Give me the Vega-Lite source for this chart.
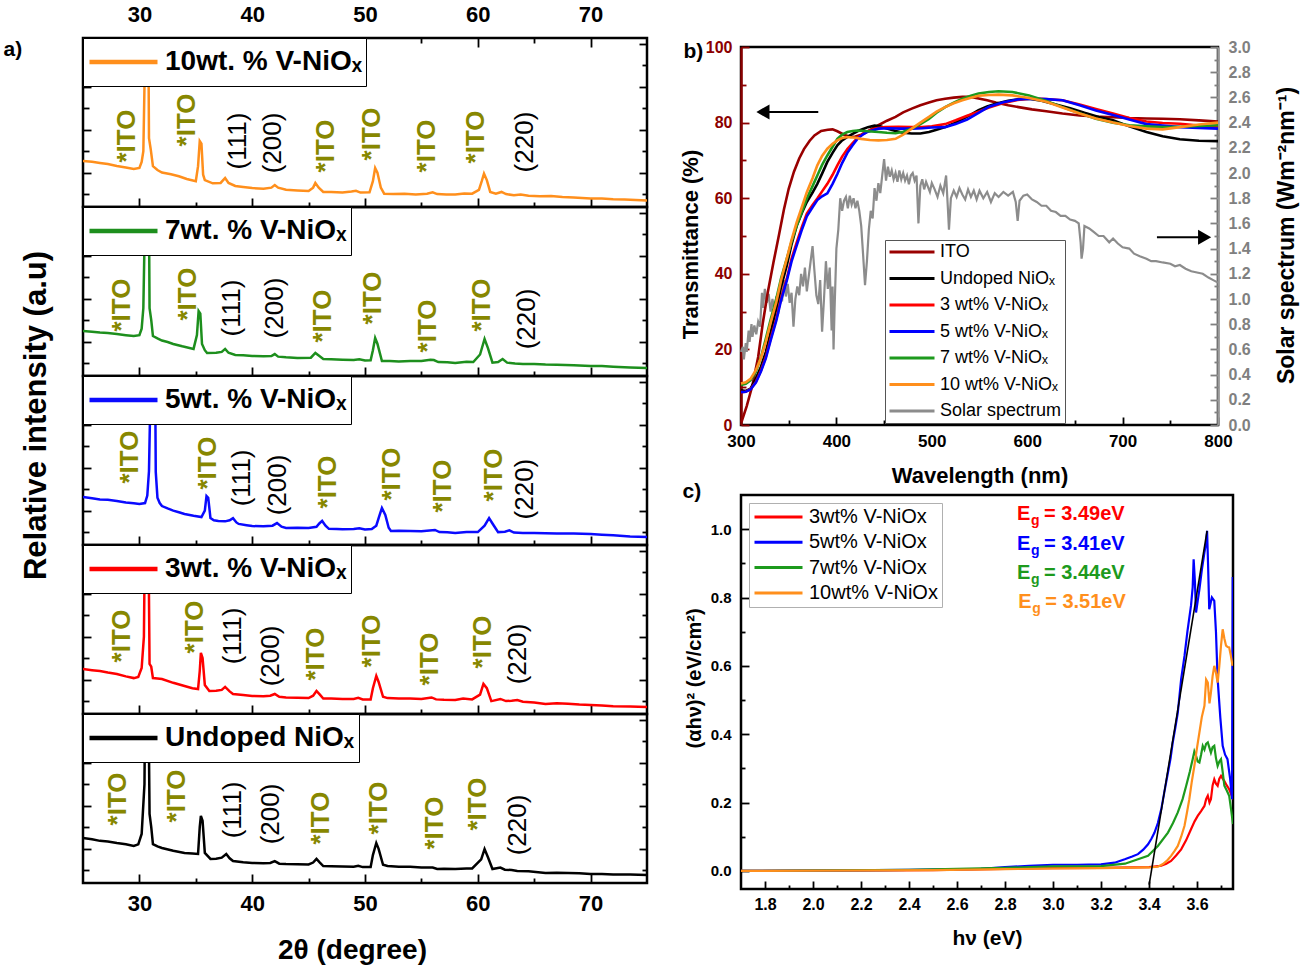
{
"$schema":"https://vega.github.io/schema/vega-lite/v6.json",
"background":"white",
"padding":{"left":1,"top":1,"right":2,"bottom":2},
"config":{
 "font":"Liberation Sans",
 "view":{"stroke":"black","strokeWidth":2.5},
 "axis":{"grid":false,"domain":false,"labelFont":"Liberation Sans","titleFont":"Liberation Sans","labelFontWeight":"bold","titleFontWeight":"bold","labelColor":"black","titleColor":"black","tickColor":"black","tickWidth":1.8,"labelFlush":false,"labelOverlap":false},
 "legend":{"labelFont":"Liberation Sans","labelColor":"black"},
 "text":{"font":"Liberation Sans"}
},
"datasets":{
"xrd":[
{"s":"10","t":25,"i":2.54},{"s":"10","t":25.8,"i":2.5},{"s":"10","t":26.5,"i":2.45},{"s":"10","t":27.2,"i":2.4},{"s":"10","t":28,"i":2.31},{"s":"10","t":28.8,"i":2.24},{"s":"10","t":29.5,"i":2.17},{"s":"10","t":30.0,"i":2.22},{"s":"10","t":30.2,"i":2.5},{"s":"10","t":30.35,"i":3.0},{"s":"10","t":30.45,"i":6},{"s":"10","t":30.55,"i":12},{"s":"10","t":30.75,"i":12},{"s":"10","t":30.85,"i":3.6},{"s":"10","t":31.0,"i":3.1},{"s":"10","t":31.2,"i":2.3},{"s":"10","t":31.6,"i":2.12},{"s":"10","t":32,"i":2.0},{"s":"10","t":32.8,"i":1.92},{"s":"10","t":33.5,"i":1.83},{"s":"10","t":34.2,"i":1.7},{"s":"10","t":35,"i":1.6},{"s":"10","t":35.2,"i":2.3},{"s":"10","t":35.35,"i":3.47},{"s":"10","t":35.5,"i":3.35},{"s":"10","t":35.65,"i":1.9},{"s":"10","t":35.8,"i":1.65},{"s":"10","t":36.5,"i":1.5},{"s":"10","t":37.2,"i":1.52},{"s":"10","t":37.6,"i":1.75},{"s":"10","t":37.9,"i":1.52},{"s":"10","t":38.5,"i":1.38},{"s":"10","t":39.2,"i":1.33},{"s":"10","t":40,"i":1.28},{"s":"10","t":41,"i":1.25},{"s":"10","t":41.7,"i":1.3},{"s":"10","t":42,"i":1.42},{"s":"10","t":42.3,"i":1.3},{"s":"10","t":43,"i":1.2},{"s":"10","t":44,"i":1.17},{"s":"10","t":45,"i":1.14},{"s":"10","t":45.4,"i":1.3},{"s":"10","t":45.6,"i":1.52},{"s":"10","t":45.9,"i":1.3},{"s":"10","t":46.3,"i":1.1},{"s":"10","t":47,"i":1.1},{"s":"10","t":48,"i":1.08},{"s":"10","t":48.8,"i":1.12},{"s":"10","t":49.2,"i":1.15},{"s":"10","t":49.6,"i":1.07},{"s":"10","t":50.4,"i":1.08},{"s":"10","t":50.7,"i":1.6},{"s":"10","t":50.9,"i":2.21},{"s":"10","t":51.1,"i":2.0},{"s":"10","t":51.4,"i":1.3},{"s":"10","t":51.7,"i":1.02},{"s":"10","t":52.5,"i":1.0},{"s":"10","t":53.5,"i":1.02},{"s":"10","t":54.5,"i":0.98},{"s":"10","t":55.5,"i":1.02},{"s":"10","t":56,"i":1.08},{"s":"10","t":56.4,"i":1.0},{"s":"10","t":57.2,"i":0.98},{"s":"10","t":58,"i":0.98},{"s":"10","t":58.8,"i":1.03},{"s":"10","t":59.5,"i":1.02},{"s":"10","t":60.1,"i":1.2},{"s":"10","t":60.35,"i":1.6},{"s":"10","t":60.55,"i":1.95},{"s":"10","t":60.8,"i":1.65},{"s":"10","t":61.1,"i":1.1},{"s":"10","t":61.6,"i":1.02},{"s":"10","t":62.1,"i":1.1},{"s":"10","t":62.5,"i":1.0},{"s":"10","t":63.2,"i":0.95},{"s":"10","t":63.8,"i":0.98},{"s":"10","t":64.5,"i":0.92},{"s":"10","t":65.5,"i":0.9},{"s":"10","t":66.5,"i":0.91},{"s":"10","t":67.5,"i":0.86},{"s":"10","t":68.5,"i":0.84},{"s":"10","t":70,"i":0.8},{"s":"10","t":71,"i":0.79},{"s":"10","t":72,"i":0.76},{"s":"10","t":73,"i":0.75},{"s":"10","t":74,"i":0.73},{"s":"10","t":75,"i":0.7},
{"s":"7","t":25,"i":2.49},{"s":"7","t":25.8,"i":2.46},{"s":"7","t":26.5,"i":2.42},{"s":"7","t":27.2,"i":2.4},{"s":"7","t":28,"i":2.35},{"s":"7","t":28.8,"i":2.3},{"s":"7","t":29.5,"i":2.26},{"s":"7","t":30.0,"i":2.3},{"s":"7","t":30.2,"i":2.6},{"s":"7","t":30.35,"i":3.56},{"s":"7","t":30.5,"i":8},{"s":"7","t":30.6,"i":12},{"s":"7","t":30.8,"i":12},{"s":"7","t":30.9,"i":3.56},{"s":"7","t":31.05,"i":3.0},{"s":"7","t":31.2,"i":2.26},{"s":"7","t":31.6,"i":2.15},{"s":"7","t":32,"i":2.05},{"s":"7","t":32.5,"i":1.98},{"s":"7","t":33,"i":1.89},{"s":"7","t":33.8,"i":1.78},{"s":"7","t":34.8,"i":1.66},{"s":"7","t":35.1,"i":2.3},{"s":"7","t":35.25,"i":3.42},{"s":"7","t":35.4,"i":3.3},{"s":"7","t":35.55,"i":1.89},{"s":"7","t":35.8,"i":1.6},{"s":"7","t":36,"i":1.47},{"s":"7","t":36.8,"i":1.48},{"s":"7","t":37.3,"i":1.52},{"s":"7","t":37.6,"i":1.66},{"s":"7","t":37.9,"i":1.48},{"s":"7","t":38.5,"i":1.38},{"s":"7","t":39.2,"i":1.36},{"s":"7","t":40,"i":1.33},{"s":"7","t":41,"i":1.32},{"s":"7","t":41.7,"i":1.33},{"s":"7","t":42,"i":1.42},{"s":"7","t":42.3,"i":1.3},{"s":"7","t":43,"i":1.27},{"s":"7","t":44,"i":1.24},{"s":"7","t":45.2,"i":1.25},{"s":"7","t":45.6,"i":1.47},{"s":"7","t":45.9,"i":1.35},{"s":"7","t":46.3,"i":1.19},{"s":"7","t":47,"i":1.18},{"s":"7","t":48,"i":1.16},{"s":"7","t":49,"i":1.14},{"s":"7","t":49.5,"i":1.18},{"s":"7","t":50,"i":1.12},{"s":"7","t":50.5,"i":1.13},{"s":"7","t":50.7,"i":1.6},{"s":"7","t":50.9,"i":2.17},{"s":"7","t":51.1,"i":1.9},{"s":"7","t":51.5,"i":1.1},{"s":"7","t":52.2,"i":1.1},{"s":"7","t":53,"i":1.08},{"s":"7","t":54,"i":1.1},{"s":"7","t":55,"i":1.1},{"s":"7","t":55.8,"i":1.16},{"s":"7","t":56.1,"i":1.14},{"s":"7","t":56.5,"i":1.05},{"s":"7","t":57.3,"i":1.04},{"s":"7","t":58,"i":1.0},{"s":"7","t":59,"i":1.06},{"s":"7","t":59.6,"i":1.05},{"s":"7","t":60.2,"i":1.4},{"s":"7","t":60.6,"i":2.12},{"s":"7","t":60.9,"i":1.7},{"s":"7","t":61.3,"i":1.02},{"s":"7","t":61.8,"i":1.05},{"s":"7","t":62.2,"i":1.19},{"s":"7","t":62.6,"i":1.02},{"s":"7","t":63.3,"i":0.98},{"s":"7","t":64,"i":0.96},{"s":"7","t":65,"i":0.96},{"s":"7","t":66,"i":0.93},{"s":"7","t":67,"i":0.92},{"s":"7","t":68.5,"i":0.9},{"s":"7","t":70,"i":0.87},{"s":"7","t":71,"i":0.86},{"s":"7","t":72,"i":0.83},{"s":"7","t":73.5,"i":0.8},{"s":"7","t":75,"i":0.77},
{"s":"5","t":25,"i":2.63},{"s":"5","t":25.8,"i":2.57},{"s":"5","t":26.5,"i":2.52},{"s":"5","t":27.2,"i":2.5},{"s":"5","t":28,"i":2.45},{"s":"5","t":28.8,"i":2.38},{"s":"5","t":29.5,"i":2.34},{"s":"5","t":30.0,"i":2.31},{"s":"5","t":30.5,"i":2.35},{"s":"5","t":30.7,"i":2.7},{"s":"5","t":30.85,"i":3.84},{"s":"5","t":31.0,"i":8},{"s":"5","t":31.1,"i":12},{"s":"5","t":31.35,"i":12},{"s":"5","t":31.45,"i":3.8},{"s":"5","t":31.6,"i":2.6},{"s":"5","t":31.8,"i":2.35},{"s":"5","t":32,"i":2.21},{"s":"5","t":32.5,"i":2.1},{"s":"5","t":33,"i":2.0},{"s":"5","t":33.5,"i":1.92},{"s":"5","t":34,"i":1.84},{"s":"5","t":34.8,"i":1.76},{"s":"5","t":35.5,"i":1.7},{"s":"5","t":35.8,"i":2.0},{"s":"5","t":35.95,"i":2.68},{"s":"5","t":36.1,"i":2.6},{"s":"5","t":36.3,"i":1.65},{"s":"5","t":36.6,"i":1.55},{"s":"5","t":37,"i":1.52},{"s":"5","t":37.6,"i":1.5},{"s":"5","t":38.0,"i":1.55},{"s":"5","t":38.3,"i":1.65},{"s":"5","t":38.6,"i":1.45},{"s":"5","t":38.8,"i":1.38},{"s":"5","t":39.5,"i":1.32},{"s":"5","t":40,"i":1.28},{"s":"5","t":41,"i":1.27},{"s":"5","t":41.8,"i":1.3},{"s":"5","t":42.2,"i":1.42},{"s":"5","t":42.6,"i":1.25},{"s":"5","t":43,"i":1.19},{"s":"5","t":44,"i":1.2},{"s":"5","t":45,"i":1.19},{"s":"5","t":45.7,"i":1.25},{"s":"5","t":45.95,"i":1.4},{"s":"5","t":46.2,"i":1.52},{"s":"5","t":46.5,"i":1.3},{"s":"5","t":46.8,"i":1.15},{"s":"5","t":47.5,"i":1.14},{"s":"5","t":48,"i":1.13},{"s":"5","t":49,"i":1.14},{"s":"5","t":49.5,"i":1.18},{"s":"5","t":50,"i":1.12},{"s":"5","t":50.6,"i":1.14},{"s":"5","t":51.0,"i":1.3},{"s":"5","t":51.3,"i":1.8},{"s":"5","t":51.5,"i":2.12},{"s":"5","t":51.8,"i":1.8},{"s":"5","t":52.1,"i":1.2},{"s":"5","t":52.3,"i":1.05},{"s":"5","t":53,"i":1.06},{"s":"5","t":54,"i":1.05},{"s":"5","t":55,"i":1.04},{"s":"5","t":56.2,"i":1.1},{"s":"5","t":56.6,"i":1.0},{"s":"5","t":57.3,"i":0.99},{"s":"5","t":58,"i":0.96},{"s":"5","t":59,"i":1.0},{"s":"5","t":60,"i":1.0},{"s":"5","t":60.6,"i":1.3},{"s":"5","t":61.0,"i":1.65},{"s":"5","t":61.3,"i":1.4},{"s":"5","t":61.8,"i":1.0},{"s":"5","t":62.4,"i":1.02},{"s":"5","t":62.8,"i":1.08},{"s":"5","t":63.2,"i":0.98},{"s":"5","t":64,"i":0.96},{"s":"5","t":65,"i":0.96},{"s":"5","t":66,"i":0.95},{"s":"5","t":67,"i":0.94},{"s":"5","t":68.5,"i":0.93},{"s":"5","t":70,"i":0.91},{"s":"5","t":71,"i":0.88},{"s":"5","t":72,"i":0.85},{"s":"5","t":73.5,"i":0.8},{"s":"5","t":75,"i":0.77},
{"s":"3","t":25,"i":2.49},{"s":"3","t":25.8,"i":2.44},{"s":"3","t":26.5,"i":2.4},{"s":"3","t":27.2,"i":2.33},{"s":"3","t":28,"i":2.26},{"s":"3","t":28.8,"i":2.15},{"s":"3","t":29.5,"i":2.07},{"s":"3","t":29.9,"i":2.12},{"s":"3","t":30.2,"i":2.54},{"s":"3","t":30.4,"i":4},{"s":"3","t":30.55,"i":12},{"s":"3","t":30.75,"i":12},{"s":"3","t":30.9,"i":2.73},{"s":"3","t":31.05,"i":2.6},{"s":"3","t":31.2,"i":2.07},{"s":"3","t":31.6,"i":2.05},{"s":"3","t":32,"i":2.03},{"s":"3","t":33,"i":1.85},{"s":"3","t":34,"i":1.7},{"s":"3","t":34.7,"i":1.6},{"s":"3","t":35.2,"i":1.56},{"s":"3","t":35.35,"i":2.4},{"s":"3","t":35.45,"i":3.24},{"s":"3","t":35.6,"i":3.0},{"s":"3","t":35.8,"i":1.75},{"s":"3","t":36.2,"i":1.47},{"s":"3","t":36.8,"i":1.48},{"s":"3","t":37.3,"i":1.52},{"s":"3","t":37.6,"i":1.66},{"s":"3","t":38.0,"i":1.45},{"s":"3","t":38.3,"i":1.33},{"s":"3","t":39.2,"i":1.28},{"s":"3","t":40,"i":1.24},{"s":"3","t":41,"i":1.23},{"s":"3","t":41.6,"i":1.25},{"s":"3","t":42,"i":1.33},{"s":"3","t":42.4,"i":1.2},{"s":"3","t":43,"i":1.17},{"s":"3","t":44,"i":1.15},{"s":"3","t":45,"i":1.14},{"s":"3","t":45.4,"i":1.25},{"s":"3","t":45.7,"i":1.47},{"s":"3","t":46.0,"i":1.3},{"s":"3","t":46.3,"i":1.12},{"s":"3","t":47,"i":1.12},{"s":"3","t":48,"i":1.1},{"s":"3","t":49,"i":1.1},{"s":"3","t":49.4,"i":1.15},{"s":"3","t":49.8,"i":1.08},{"s":"3","t":50.5,"i":1.08},{"s":"3","t":50.7,"i":1.6},{"s":"3","t":51.0,"i":2.17},{"s":"3","t":51.2,"i":1.9},{"s":"3","t":51.6,"i":1.2},{"s":"3","t":52,"i":1.14},{"s":"3","t":53,"i":1.12},{"s":"3","t":54,"i":1.12},{"s":"3","t":55,"i":1.1},{"s":"3","t":55.9,"i":1.17},{"s":"3","t":56.3,"i":1.08},{"s":"3","t":57,"i":1.06},{"s":"3","t":58,"i":1.05},{"s":"3","t":58.7,"i":1.12},{"s":"3","t":59.5,"i":1.08},{"s":"3","t":60.2,"i":1.3},{"s":"3","t":60.5,"i":1.8},{"s":"3","t":60.8,"i":1.6},{"s":"3","t":61.2,"i":1.0},{"s":"3","t":62,"i":1.1},{"s":"3","t":62.5,"i":1.0},{"s":"3","t":63,"i":1.02},{"s":"3","t":63.5,"i":1.05},{"s":"3","t":64,"i":0.97},{"s":"3","t":65,"i":0.93},{"s":"3","t":66,"i":0.87},{"s":"3","t":67,"i":0.9},{"s":"3","t":68,"i":0.88},{"s":"3","t":69,"i":0.84},{"s":"3","t":70,"i":0.82},{"s":"3","t":71,"i":0.8},{"s":"3","t":72,"i":0.76},{"s":"3","t":73.5,"i":0.75},{"s":"3","t":75,"i":0.73},
{"s":"0","t":25,"i":2.49},{"s":"0","t":25.8,"i":2.43},{"s":"0","t":26.5,"i":2.36},{"s":"0","t":27.2,"i":2.33},{"s":"0","t":28,"i":2.26},{"s":"0","t":28.8,"i":2.2},{"s":"0","t":29.5,"i":2.12},{"s":"0","t":29.9,"i":2.2},{"s":"0","t":30.2,"i":2.68},{"s":"0","t":30.45,"i":5},{"s":"0","t":30.55,"i":12},{"s":"0","t":30.75,"i":12},{"s":"0","t":30.9,"i":3.61},{"s":"0","t":31.05,"i":3.0},{"s":"0","t":31.2,"i":2.21},{"s":"0","t":31.6,"i":2.1},{"s":"0","t":32,"i":2.03},{"s":"0","t":33,"i":1.9},{"s":"0","t":34,"i":1.8},{"s":"0","t":34.7,"i":1.77},{"s":"0","t":35.2,"i":1.75},{"s":"0","t":35.35,"i":3.0},{"s":"0","t":35.45,"i":3.52},{"s":"0","t":35.6,"i":3.3},{"s":"0","t":35.8,"i":1.8},{"s":"0","t":36.3,"i":1.52},{"s":"0","t":36.8,"i":1.53},{"s":"0","t":37.3,"i":1.58},{"s":"0","t":37.7,"i":1.75},{"s":"0","t":38.0,"i":1.55},{"s":"0","t":38.3,"i":1.42},{"s":"0","t":39.2,"i":1.36},{"s":"0","t":40,"i":1.33},{"s":"0","t":41,"i":1.32},{"s":"0","t":41.6,"i":1.33},{"s":"0","t":42,"i":1.42},{"s":"0","t":42.4,"i":1.3},{"s":"0","t":43,"i":1.28},{"s":"0","t":44,"i":1.27},{"s":"0","t":45,"i":1.26},{"s":"0","t":45.4,"i":1.35},{"s":"0","t":45.7,"i":1.52},{"s":"0","t":46.0,"i":1.35},{"s":"0","t":46.3,"i":1.19},{"s":"0","t":47,"i":1.18},{"s":"0","t":48,"i":1.17},{"s":"0","t":49,"i":1.16},{"s":"0","t":49.4,"i":1.2},{"s":"0","t":49.8,"i":1.14},{"s":"0","t":50.5,"i":1.14},{"s":"0","t":50.7,"i":1.7},{"s":"0","t":51.0,"i":2.26},{"s":"0","t":51.2,"i":2.0},{"s":"0","t":51.6,"i":1.25},{"s":"0","t":52,"i":1.19},{"s":"0","t":53,"i":1.16},{"s":"0","t":54,"i":1.15},{"s":"0","t":55,"i":1.12},{"s":"0","t":56,"i":1.12},{"s":"0","t":56.4,"i":1.05},{"s":"0","t":57,"i":1.06},{"s":"0","t":58,"i":1.05},{"s":"0","t":59,"i":1.08},{"s":"0","t":59.5,"i":1.08},{"s":"0","t":60.3,"i":1.5},{"s":"0","t":60.6,"i":1.98},{"s":"0","t":60.9,"i":1.6},{"s":"0","t":61.3,"i":1.05},{"s":"0","t":62,"i":1.12},{"s":"0","t":62.4,"i":1.02},{"s":"0","t":63,"i":1.0},{"s":"0","t":63.5,"i":0.96},{"s":"0","t":64.5,"i":0.95},{"s":"0","t":66,"i":0.87},{"s":"0","t":67,"i":0.88},{"s":"0","t":68,"i":0.86},{"s":"0","t":69,"i":0.85},{"s":"0","t":70,"i":0.82},{"s":"0","t":71,"i":0.82},{"s":"0","t":72,"i":0.8},{"s":"0","t":73.5,"i":0.79},{"s":"0","t":75,"i":0.77}
],
"ann":[
{"s":"10","k":"ITO","t":28.9,"v":3.70,"txt":"*ITO"},{"s":"10","k":"ITO","t":34.2,"v":4.45,"txt":"*ITO"},{"s":"10","k":"ITO","t":46.5,"v":3.24,"txt":"*ITO"},{"s":"10","k":"ITO","t":50.6,"v":3.80,"txt":"*ITO"},{"s":"10","k":"ITO","t":55.5,"v":3.24,"txt":"*ITO"},{"s":"10","k":"ITO","t":59.8,"v":3.66,"txt":"*ITO"},{"s":"10","k":"hkl","t":38.7,"v":3.47,"txt":"(111)"},{"s":"10","k":"hkl","t":41.8,"v":3.38,"txt":"(200)"},{"s":"10","k":"hkl","t":64.2,"v":3.42,"txt":"(220)"},
{"s":"7","k":"ITO","t":28.5,"v":3.70,"txt":"*ITO"},{"s":"7","k":"ITO","t":34.3,"v":4.21,"txt":"*ITO"},{"s":"7","k":"ITO","t":46.3,"v":3.19,"txt":"*ITO"},{"s":"7","k":"ITO","t":50.7,"v":4.03,"txt":"*ITO"},{"s":"7","k":"ITO","t":55.6,"v":2.73,"txt":"*ITO"},{"s":"7","k":"ITO","t":60.4,"v":3.70,"txt":"*ITO"},{"s":"7","k":"hkl","t":38.2,"v":3.56,"txt":"(111)"},{"s":"7","k":"hkl","t":42.0,"v":3.56,"txt":"(200)"},{"s":"7","k":"hkl","t":64.4,"v":3.05,"txt":"(220)"},
{"s":"5","k":"ITO","t":29.2,"v":4.49,"txt":"*ITO"},{"s":"5","k":"ITO","t":36.1,"v":4.21,"txt":"*ITO"},{"s":"5","k":"ITO","t":46.7,"v":3.33,"txt":"*ITO"},{"s":"5","k":"ITO","t":52.4,"v":3.70,"txt":"*ITO"},{"s":"5","k":"ITO","t":56.9,"v":3.14,"txt":"*ITO"},{"s":"5","k":"ITO","t":61.4,"v":3.66,"txt":"*ITO"},{"s":"5","k":"hkl","t":39.1,"v":3.52,"txt":"(111)"},{"s":"5","k":"hkl","t":42.3,"v":3.19,"txt":"(200)"},{"s":"5","k":"hkl","t":64.2,"v":3.0,"txt":"(220)"},
{"s":"3","k":"ITO","t":28.5,"v":4.03,"txt":"*ITO"},{"s":"3","k":"ITO","t":34.9,"v":4.45,"txt":"*ITO"},{"s":"3","k":"ITO","t":45.7,"v":3.19,"txt":"*ITO"},{"s":"3","k":"ITO","t":50.6,"v":3.80,"txt":"*ITO"},{"s":"3","k":"ITO","t":55.8,"v":2.96,"txt":"*ITO"},{"s":"3","k":"ITO","t":60.5,"v":3.75,"txt":"*ITO"},{"s":"3","k":"hkl","t":38.3,"v":4.03,"txt":"(111)"},{"s":"3","k":"hkl","t":41.7,"v":3.10,"txt":"(200)"},{"s":"3","k":"hkl","t":63.6,"v":3.19,"txt":"(220)"},
{"s":"0","k":"ITO","t":28.1,"v":4.31,"txt":"*ITO"},{"s":"0","k":"ITO","t":33.3,"v":4.45,"txt":"*ITO"},{"s":"0","k":"ITO","t":46.1,"v":3.42,"txt":"*ITO"},{"s":"0","k":"ITO","t":51.2,"v":3.89,"txt":"*ITO"},{"s":"0","k":"ITO","t":56.2,"v":3.19,"txt":"*ITO"},{"s":"0","k":"ITO","t":60.0,"v":4.07,"txt":"*ITO"},{"s":"0","k":"hkl","t":38.3,"v":3.80,"txt":"(111)"},{"s":"0","k":"hkl","t":41.7,"v":3.61,"txt":"(200)"},{"s":"0","k":"hkl","t":63.6,"v":3.10,"txt":"(220)"}
],
"trans":[
{"s":"ITO","w":300.5,"t":0.8},{"s":"ITO","w":306,"t":5},{"s":"ITO","w":312,"t":10.5},{"s":"ITO","w":318,"t":18},{"s":"ITO","w":323,"t":27.2},{"s":"ITO","w":328,"t":35},{"s":"ITO","w":334,"t":43},{"s":"ITO","w":340,"t":50.5},{"s":"ITO","w":345,"t":57},{"s":"ITO","w":350,"t":62.5},{"s":"ITO","w":355.5,"t":67},{"s":"ITO","w":361,"t":70.5},{"s":"ITO","w":366,"t":73},{"s":"ITO","w":372,"t":75.2},{"s":"ITO","w":377,"t":76.6},{"s":"ITO","w":384,"t":77.8},{"s":"ITO","w":391,"t":78.1},{"s":"ITO","w":396,"t":78.2},{"s":"ITO","w":401,"t":77.7},{"s":"ITO","w":408,"t":76.8},{"s":"ITO","w":415,"t":76.2},{"s":"ITO","w":420,"t":76.3},{"s":"ITO","w":426,"t":76.8},{"s":"ITO","w":435,"t":78},{"s":"ITO","w":444,"t":79.3},{"s":"ITO","w":453,"t":80.5},{"s":"ITO","w":462,"t":81.5},{"s":"ITO","w":470,"t":82.7},{"s":"ITO","w":479,"t":83.7},{"s":"ITO","w":488,"t":84.6},{"s":"ITO","w":497,"t":85.3},{"s":"ITO","w":505,"t":85.9},{"s":"ITO","w":514,"t":86.3},{"s":"ITO","w":523,"t":86.6},{"s":"ITO","w":532,"t":86.8},{"s":"ITO","w":541,"t":86.8},{"s":"ITO","w":549,"t":86.4},{"s":"ITO","w":558,"t":85.9},{"s":"ITO","w":567,"t":85.3},{"s":"ITO","w":580,"t":84.6},{"s":"ITO","w":591,"t":84.1},{"s":"ITO","w":605,"t":83.5},{"s":"ITO","w":620,"t":83},{"s":"ITO","w":637,"t":82.4},{"s":"ITO","w":655,"t":81.9},{"s":"ITO","w":672,"t":81.6},{"s":"ITO","w":690,"t":81.4},{"s":"ITO","w":707,"t":81.2},{"s":"ITO","w":725,"t":81.1},{"s":"ITO","w":742,"t":81.0},{"s":"ITO","w":760,"t":80.9},{"s":"ITO","w":780,"t":80.6},{"s":"ITO","w":800,"t":80.3},
{"s":"U","w":300,"t":9.2},{"s":"U","w":305,"t":9.0},{"s":"U","w":310,"t":9.6},{"s":"U","w":315.6,"t":12.3},{"s":"U","w":321,"t":15.5},{"s":"U","w":326,"t":19.3},{"s":"U","w":331,"t":24.5},{"s":"U","w":337,"t":30.8},{"s":"U","w":342,"t":36.5},{"s":"U","w":348,"t":42.2},{"s":"U","w":353,"t":47.8},{"s":"U","w":358.5,"t":52.8},{"s":"U","w":364,"t":56.2},{"s":"U","w":369,"t":59},{"s":"U","w":375,"t":61.5},{"s":"U","w":380,"t":63.8},{"s":"U","w":385,"t":66.5},{"s":"U","w":390.5,"t":69.6},{"s":"U","w":396,"t":72},{"s":"U","w":401,"t":74},{"s":"U","w":406,"t":75.3},{"s":"U","w":411.5,"t":76.2},{"s":"U","w":417,"t":77.0},{"s":"U","w":422,"t":77.7},{"s":"U","w":428,"t":78.3},{"s":"U","w":433,"t":78.8},{"s":"U","w":440,"t":79.2},{"s":"U","w":446,"t":79.0},{"s":"U","w":452,"t":78.5},{"s":"U","w":462,"t":77.8},{"s":"U","w":470,"t":77.3},{"s":"U","w":479,"t":77.1},{"s":"U","w":488,"t":77.1},{"s":"U","w":497,"t":77.5},{"s":"U","w":505,"t":78.1},{"s":"U","w":514,"t":78.8},{"s":"U","w":523,"t":79.8},{"s":"U","w":532,"t":80.9},{"s":"U","w":541,"t":82.1},{"s":"U","w":549,"t":83.3},{"s":"U","w":558,"t":84.3},{"s":"U","w":567,"t":85},{"s":"U","w":580,"t":85.8},{"s":"U","w":591,"t":86.2},{"s":"U","w":602,"t":86.3},{"s":"U","w":615,"t":85.8},{"s":"U","w":630,"t":84.8},{"s":"U","w":645,"t":83.8},{"s":"U","w":660,"t":82.6},{"s":"U","w":675,"t":81.5},{"s":"U","w":690,"t":80.6},{"s":"U","w":707,"t":79},{"s":"U","w":725,"t":77.5},{"s":"U","w":742,"t":76.4},{"s":"U","w":760,"t":75.6},{"s":"U","w":780,"t":75.2},{"s":"U","w":800,"t":75.1},
{"s":"3","w":300,"t":8.7},{"s":"3","w":305,"t":8.8},{"s":"3","w":310,"t":9.5},{"s":"3","w":315.6,"t":11.4},{"s":"3","w":321,"t":14.5},{"s":"3","w":326,"t":18},{"s":"3","w":331,"t":22.8},{"s":"3","w":337,"t":28.1},{"s":"3","w":342,"t":33.5},{"s":"3","w":348,"t":38.7},{"s":"3","w":353,"t":44},{"s":"3","w":358.5,"t":48.4},{"s":"3","w":364,"t":52.5},{"s":"3","w":369,"t":55.9},{"s":"3","w":375,"t":58.2},{"s":"3","w":380,"t":59.9},{"s":"3","w":385,"t":61.8},{"s":"3","w":390.5,"t":63.8},{"s":"3","w":396,"t":66.2},{"s":"3","w":401,"t":68.7},{"s":"3","w":406,"t":71},{"s":"3","w":411.5,"t":73},{"s":"3","w":417,"t":74.6},{"s":"3","w":422,"t":75.9},{"s":"3","w":428,"t":77},{"s":"3","w":433,"t":77.7},{"s":"3","w":442,"t":78.5},{"s":"3","w":451,"t":78.8},{"s":"3","w":465,"t":78.9},{"s":"3","w":479,"t":78.8},{"s":"3","w":490,"t":78.8},{"s":"3","w":500,"t":79},{"s":"3","w":514,"t":79.6},{"s":"3","w":525,"t":80.6},{"s":"3","w":537,"t":81.8},{"s":"3","w":549,"t":82.9},{"s":"3","w":560,"t":84},{"s":"3","w":575,"t":85.2},{"s":"3","w":590,"t":86},{"s":"3","w":602,"t":86.3},{"s":"3","w":615,"t":86.3},{"s":"3","w":637,"t":85.9},{"s":"3","w":655,"t":84.8},{"s":"3","w":672,"t":83.6},{"s":"3","w":690,"t":82.4},{"s":"3","w":707,"t":81.2},{"s":"3","w":725,"t":80.3},{"s":"3","w":742,"t":79.9},{"s":"3","w":760,"t":79.7},{"s":"3","w":780,"t":79.2},{"s":"3","w":800,"t":78.8},
{"s":"5","w":300,"t":8.7},{"s":"5","w":305,"t":8.8},{"s":"5","w":310,"t":9.4},{"s":"5","w":315.6,"t":11.2},{"s":"5","w":321,"t":14.2},{"s":"5","w":326,"t":17.6},{"s":"5","w":331,"t":22.3},{"s":"5","w":337,"t":27.6},{"s":"5","w":342,"t":33},{"s":"5","w":348,"t":38.2},{"s":"5","w":353,"t":43.3},{"s":"5","w":358.5,"t":47.6},{"s":"5","w":364,"t":51.8},{"s":"5","w":369,"t":55.2},{"s":"5","w":375,"t":57.6},{"s":"5","w":380,"t":59.5},{"s":"5","w":385,"t":60.5},{"s":"5","w":390.5,"t":61.3},{"s":"5","w":396,"t":63.8},{"s":"5","w":401,"t":66.4},{"s":"5","w":406,"t":69.3},{"s":"5","w":411.5,"t":72},{"s":"5","w":417,"t":74},{"s":"5","w":422,"t":75.7},{"s":"5","w":428,"t":76.9},{"s":"5","w":433,"t":77.6},{"s":"5","w":444,"t":78.4},{"s":"5","w":455,"t":78.5},{"s":"5","w":466,"t":78.4},{"s":"5","w":479,"t":78.4},{"s":"5","w":490,"t":78.5},{"s":"5","w":500,"t":78.7},{"s":"5","w":514,"t":78.8},{"s":"5","w":525,"t":79.6},{"s":"5","w":537,"t":80.8},{"s":"5","w":549,"t":82.6},{"s":"5","w":560,"t":84.2},{"s":"5","w":575,"t":85.4},{"s":"5","w":590,"t":86.1},{"s":"5","w":602,"t":86.3},{"s":"5","w":620,"t":86.2},{"s":"5","w":637,"t":85.9},{"s":"5","w":655,"t":84.6},{"s":"5","w":672,"t":83.2},{"s":"5","w":690,"t":82},{"s":"5","w":707,"t":80.8},{"s":"5","w":725,"t":79.6},{"s":"5","w":742,"t":79.2},{"s":"5","w":760,"t":78.8},{"s":"5","w":780,"t":78.6},{"s":"5","w":800,"t":78.4},
{"s":"7","w":300,"t":10.6},{"s":"7","w":305,"t":10.9},{"s":"7","w":310,"t":11.8},{"s":"7","w":315.6,"t":14.1},{"s":"7","w":321,"t":18},{"s":"7","w":326,"t":22.8},{"s":"7","w":331,"t":27.8},{"s":"7","w":337,"t":33.4},{"s":"7","w":342,"t":38.8},{"s":"7","w":348,"t":44},{"s":"7","w":353,"t":48.5},{"s":"7","w":358.5,"t":52.8},{"s":"7","w":364,"t":56.5},{"s":"7","w":369,"t":59.9},{"s":"7","w":375,"t":63.2},{"s":"7","w":380,"t":66},{"s":"7","w":385,"t":68.8},{"s":"7","w":390.5,"t":71.3},{"s":"7","w":396,"t":73.6},{"s":"7","w":401,"t":75.7},{"s":"7","w":406,"t":76.8},{"s":"7","w":411.5,"t":77.5},{"s":"7","w":417,"t":77.8},{"s":"7","w":422,"t":77.9},{"s":"7","w":433,"t":77.7},{"s":"7","w":444,"t":77.5},{"s":"7","w":453,"t":77.3},{"s":"7","w":462,"t":77.2},{"s":"7","w":470,"t":77.6},{"s":"7","w":479,"t":78.4},{"s":"7","w":488,"t":79.6},{"s":"7","w":497,"t":81},{"s":"7","w":505,"t":82.6},{"s":"7","w":514,"t":84.1},{"s":"7","w":523,"t":85.3},{"s":"7","w":532,"t":86.3},{"s":"7","w":541,"t":87.1},{"s":"7","w":549,"t":87.7},{"s":"7","w":560,"t":88.1},{"s":"7","w":570,"t":88.3},{"s":"7","w":584.5,"t":88.1},{"s":"7","w":602,"t":87.2},{"s":"7","w":620,"t":85.7},{"s":"7","w":637,"t":84.1},{"s":"7","w":655,"t":82.5},{"s":"7","w":672,"t":81.0},{"s":"7","w":690,"t":80},{"s":"7","w":707,"t":79.3},{"s":"7","w":725,"t":79.0},{"s":"7","w":742,"t":78.8},{"s":"7","w":760,"t":78.9},{"s":"7","w":780,"t":79.1},{"s":"7","w":800,"t":79.3},
{"s":"10","w":300,"t":11},{"s":"10","w":305,"t":11.3},{"s":"10","w":310,"t":12.2},{"s":"10","w":315.6,"t":14.5},{"s":"10","w":321,"t":17.8},{"s":"10","w":326,"t":22},{"s":"10","w":331,"t":27},{"s":"10","w":337,"t":32.5},{"s":"10","w":342,"t":38.3},{"s":"10","w":348,"t":44},{"s":"10","w":353,"t":49},{"s":"10","w":358.5,"t":53.7},{"s":"10","w":364,"t":57.8},{"s":"10","w":369,"t":61.6},{"s":"10","w":375,"t":65.3},{"s":"10","w":380,"t":68.7},{"s":"10","w":385,"t":71.2},{"s":"10","w":390.5,"t":73.1},{"s":"10","w":396,"t":74.4},{"s":"10","w":401,"t":75.3},{"s":"10","w":406,"t":75.9},{"s":"10","w":411.5,"t":76.2},{"s":"10","w":420,"t":76},{"s":"10","w":426,"t":75.7},{"s":"10","w":435,"t":75.4},{"s":"10","w":444,"t":75.3},{"s":"10","w":453,"t":75.4},{"s":"10","w":462,"t":75.7},{"s":"10","w":470,"t":76.8},{"s":"10","w":479,"t":78.4},{"s":"10","w":488,"t":80},{"s":"10","w":497,"t":81.5},{"s":"10","w":505,"t":82.9},{"s":"10","w":514,"t":84.1},{"s":"10","w":523,"t":85.1},{"s":"10","w":532,"t":85.9},{"s":"10","w":541,"t":86.6},{"s":"10","w":549,"t":87.1},{"s":"10","w":560,"t":87.3},{"s":"10","w":570,"t":87.4},{"s":"10","w":584.5,"t":87.2},{"s":"10","w":602,"t":86.5},{"s":"10","w":620,"t":85.5},{"s":"10","w":637,"t":84},{"s":"10","w":655,"t":82.4},{"s":"10","w":672,"t":81.1},{"s":"10","w":690,"t":80},{"s":"10","w":707,"t":79.1},{"s":"10","w":725,"t":78.4},{"s":"10","w":742,"t":78.2},{"s":"10","w":760,"t":78.8},{"s":"10","w":780,"t":79.5},{"s":"10","w":800,"t":80}
],
"solar":[
{"s":"Sol","w":300,"v":0.58},{"s":"Sol","w":302,"v":0.62},{"s":"Sol","w":303,"v":0.52},{"s":"Sol","w":305,"v":0.65},{"s":"Sol","w":306,"v":0.58},{"s":"Sol","w":308,"v":0.75},{"s":"Sol","w":309,"v":0.66},{"s":"Sol","w":311,"v":0.8},{"s":"Sol","w":312,"v":0.7},{"s":"Sol","w":314,"v":0.79},{"s":"Sol","w":316,"v":0.72},{"s":"Sol","w":318,"v":0.82},{"s":"Sol","w":320,"v":0.78},{"s":"Sol","w":322,"v":1.05},{"s":"Sol","w":323,"v":0.93},{"s":"Sol","w":325,"v":1.08},{"s":"Sol","w":327,"v":0.97},{"s":"Sol","w":329,"v":1.04},{"s":"Sol","w":331,"v":0.9},{"s":"Sol","w":333,"v":1.0},{"s":"Sol","w":335,"v":0.9},{"s":"Sol","w":337,"v":1.02},{"s":"Sol","w":339,"v":0.88},{"s":"Sol","w":341,"v":1.08},{"s":"Sol","w":343,"v":0.98},{"s":"Sol","w":345,"v":1.15},{"s":"Sol","w":347,"v":1.02},{"s":"Sol","w":349,"v":1.12},{"s":"Sol","w":351,"v":0.97},{"s":"Sol","w":353,"v":1.05},{"s":"Sol","w":355,"v":0.78},{"s":"Sol","w":357,"v":1.0},{"s":"Sol","w":359,"v":1.1},{"s":"Sol","w":361,"v":1.03},{"s":"Sol","w":363,"v":1.2},{"s":"Sol","w":365,"v":1.1},{"s":"Sol","w":367,"v":1.25},{"s":"Sol","w":369,"v":1.06},{"s":"Sol","w":371,"v":1.18},{"s":"Sol","w":373,"v":1.3},{"s":"Sol","w":375,"v":1.42},{"s":"Sol","w":377,"v":1.22},{"s":"Sol","w":379,"v":1.03},{"s":"Sol","w":381,"v":0.96},{"s":"Sol","w":383,"v":1.15},{"s":"Sol","w":385,"v":0.74},{"s":"Sol","w":387,"v":1.0},{"s":"Sol","w":389,"v":1.3},{"s":"Sol","w":391,"v":1.08},{"s":"Sol","w":393,"v":1.25},{"s":"Sol","w":395,"v":0.75},{"s":"Sol","w":396,"v":1.1},{"s":"Sol","w":397,"v":0.6},{"s":"Sol","w":398,"v":0.9},{"s":"Sol","w":400,"v":1.4},{"s":"Sol","w":402,"v":1.55},{"s":"Sol","w":404,"v":1.8},{"s":"Sol","w":406,"v":1.7},{"s":"Sol","w":408,"v":1.78},{"s":"Sol","w":410,"v":1.81},{"s":"Sol","w":412,"v":1.72},{"s":"Sol","w":414,"v":1.82},{"s":"Sol","w":416,"v":1.75},{"s":"Sol","w":418,"v":1.8},{"s":"Sol","w":420,"v":1.72},{"s":"Sol","w":422,"v":1.78},{"s":"Sol","w":424,"v":1.7},{"s":"Sol","w":426,"v":1.58},{"s":"Sol","w":428,"v":1.35},{"s":"Sol","w":430,"v":1.11},{"s":"Sol","w":432,"v":1.3},{"s":"Sol","w":434,"v":1.55},{"s":"Sol","w":436,"v":1.7},{"s":"Sol","w":438,"v":1.64},{"s":"Sol","w":440,"v":1.88},{"s":"Sol","w":442,"v":1.78},{"s":"Sol","w":444,"v":1.92},{"s":"Sol","w":446,"v":1.84},{"s":"Sol","w":448,"v":1.98},{"s":"Sol","w":450,"v":2.11},{"s":"Sol","w":452,"v":1.94},{"s":"Sol","w":454,"v":2.05},{"s":"Sol","w":456,"v":1.97},{"s":"Sol","w":458,"v":2.02},{"s":"Sol","w":460,"v":1.95},{"s":"Sol","w":462,"v":2.0},{"s":"Sol","w":464,"v":1.93},{"s":"Sol","w":466,"v":2.02},{"s":"Sol","w":468,"v":1.95},{"s":"Sol","w":470,"v":2.0},{"s":"Sol","w":472,"v":1.94},{"s":"Sol","w":474,"v":1.98},{"s":"Sol","w":476,"v":1.91},{"s":"Sol","w":478,"v":1.98},{"s":"Sol","w":480,"v":2.0},{"s":"Sol","w":482,"v":1.94},{"s":"Sol","w":484,"v":1.98},{"s":"Sol","w":486,"v":1.6},{"s":"Sol","w":488,"v":1.9},{"s":"Sol","w":490,"v":1.95},{"s":"Sol","w":492,"v":1.87},{"s":"Sol","w":494,"v":1.93},{"s":"Sol","w":496,"v":1.89},{"s":"Sol","w":498,"v":1.85},{"s":"Sol","w":500,"v":1.92},{"s":"Sol","w":503,"v":1.87},{"s":"Sol","w":506,"v":1.81},{"s":"Sol","w":509,"v":1.9},{"s":"Sol","w":512,"v":1.84},{"s":"Sol","w":515,"v":1.98},{"s":"Sol","w":517,"v":1.7},{"s":"Sol","w":518,"v":1.55},{"s":"Sol","w":520,"v":1.8},{"s":"Sol","w":523,"v":1.86},{"s":"Sol","w":526,"v":1.81},{"s":"Sol","w":529,"v":1.88},{"s":"Sol","w":532,"v":1.83},{"s":"Sol","w":535,"v":1.79},{"s":"Sol","w":538,"v":1.87},{"s":"Sol","w":541,"v":1.81},{"s":"Sol","w":544,"v":1.86},{"s":"Sol","w":547,"v":1.79},{"s":"Sol","w":550,"v":1.86},{"s":"Sol","w":554,"v":1.8},{"s":"Sol","w":558,"v":1.85},{"s":"Sol","w":562,"v":1.77},{"s":"Sol","w":566,"v":1.84},{"s":"Sol","w":570,"v":1.81},{"s":"Sol","w":575,"v":1.85},{"s":"Sol","w":580,"v":1.82},{"s":"Sol","w":585,"v":1.85},{"s":"Sol","w":588,"v":1.77},{"s":"Sol","w":590,"v":1.62},{"s":"Sol","w":592,"v":1.78},{"s":"Sol","w":596,"v":1.82},{"s":"Sol","w":600,"v":1.83},{"s":"Sol","w":605,"v":1.79},{"s":"Sol","w":610,"v":1.77},{"s":"Sol","w":615,"v":1.74},{"s":"Sol","w":620,"v":1.74},{"s":"Sol","w":625,"v":1.7},{"s":"Sol","w":630,"v":1.69},{"s":"Sol","w":635,"v":1.66},{"s":"Sol","w":640,"v":1.66},{"s":"Sol","w":645,"v":1.63},{"s":"Sol","w":650,"v":1.62},{"s":"Sol","w":654,"v":1.6},{"s":"Sol","w":656,"v":1.45},{"s":"Sol","w":657,"v":1.32},{"s":"Sol","w":658.5,"v":1.4},{"s":"Sol","w":660,"v":1.58},{"s":"Sol","w":665,"v":1.56},{"s":"Sol","w":670,"v":1.53},{"s":"Sol","w":675,"v":1.5},{"s":"Sol","w":680,"v":1.5},{"s":"Sol","w":686,"v":1.45},{"s":"Sol","w":690,"v":1.48},{"s":"Sol","w":695,"v":1.44},{"s":"Sol","w":700,"v":1.41},{"s":"Sol","w":707,"v":1.4},{"s":"Sol","w":712,"v":1.36},{"s":"Sol","w":718,"v":1.34},{"s":"Sol","w":725,"v":1.32},{"s":"Sol","w":730,"v":1.3},{"s":"Sol","w":735,"v":1.3},{"s":"Sol","w":742,"v":1.29},{"s":"Sol","w":750,"v":1.28},{"s":"Sol","w":755,"v":1.26},{"s":"Sol","w":760,"v":1.27},{"s":"Sol","w":766,"v":1.24},{"s":"Sol","w":772,"v":1.22},{"s":"Sol","w":778,"v":1.21},{"s":"Sol","w":784,"v":1.2},{"s":"Sol","w":790,"v":1.17},{"s":"Sol","w":795,"v":1.15},{"s":"Sol","w":800,"v":1.13}
],
"tauc":[
{"s":"3","e":1.7,"a":0},{"s":"3","e":2.5,"a":0.002},{"s":"3","e":2.8,"a":0.006},{"s":"3","e":3.0,"a":0.008},{"s":"3","e":3.2,"a":0.009},{"s":"3","e":3.4,"a":0.011},{"s":"3","e":3.451,"a":0.015},{"s":"3","e":3.472,"a":0.021},{"s":"3","e":3.492,"a":0.029},{"s":"3","e":3.513,"a":0.045},{"s":"3","e":3.534,"a":0.063},{"s":"3","e":3.555,"a":0.09},{"s":"3","e":3.575,"a":0.122},{"s":"3","e":3.59,"a":0.145},{"s":"3","e":3.603,"a":0.161},{"s":"3","e":3.617,"a":0.175},{"s":"3","e":3.631,"a":0.19},{"s":"3","e":3.638,"a":0.21},{"s":"3","e":3.645,"a":0.22},{"s":"3","e":3.652,"a":0.2},{"s":"3","e":3.658,"a":0.21},{"s":"3","e":3.665,"a":0.25},{"s":"3","e":3.672,"a":0.268},{"s":"3","e":3.679,"a":0.255},{"s":"3","e":3.686,"a":0.249},{"s":"3","e":3.693,"a":0.27},{"s":"3","e":3.7,"a":0.278},{"s":"3","e":3.707,"a":0.27},{"s":"3","e":3.714,"a":0.263},{"s":"3","e":3.724,"a":0.25},{"s":"3","e":3.734,"a":0.239},{"s":"3","e":3.742,"a":0.225},{"s":"3","e":3.75,"a":0.21},
{"s":"5","e":1.7,"a":0},{"s":"5","e":2.0,"a":0.001},{"s":"5","e":2.4,"a":0.003},{"s":"5","e":2.7,"a":0.006},{"s":"5","e":2.8,"a":0.011},{"s":"5","e":2.9,"a":0.015},{"s":"5","e":3.0,"a":0.018},{"s":"5","e":3.1,"a":0.018},{"s":"5","e":3.2,"a":0.019},{"s":"5","e":3.257,"a":0.024},{"s":"5","e":3.299,"a":0.034},{"s":"5","e":3.33,"a":0.042},{"s":"5","e":3.354,"a":0.049},{"s":"5","e":3.376,"a":0.062},{"s":"5","e":3.396,"a":0.078},{"s":"5","e":3.41,"a":0.094},{"s":"5","e":3.423,"a":0.112},{"s":"5","e":3.437,"a":0.14},{"s":"5","e":3.451,"a":0.18},{"s":"5","e":3.465,"a":0.235},{"s":"5","e":3.479,"a":0.288},{"s":"5","e":3.49,"a":0.33},{"s":"5","e":3.499,"a":0.376},{"s":"5","e":3.51,"a":0.42},{"s":"5","e":3.52,"a":0.463},{"s":"5","e":3.534,"a":0.561},{"s":"5","e":3.548,"a":0.629},{"s":"5","e":3.56,"a":0.7},{"s":"5","e":3.575,"a":0.776},{"s":"5","e":3.582,"a":0.83},{"s":"5","e":3.586,"a":0.912},{"s":"5","e":3.591,"a":0.85},{"s":"5","e":3.596,"a":0.756},{"s":"5","e":3.603,"a":0.79},{"s":"5","e":3.61,"a":0.824},{"s":"5","e":3.62,"a":0.88},{"s":"5","e":3.631,"a":0.932},{"s":"5","e":3.638,"a":0.96},{"s":"5","e":3.642,"a":0.995},{"s":"5","e":3.646,"a":0.9},{"s":"5","e":3.651,"a":0.766},{"s":"5","e":3.662,"a":0.8},{"s":"5","e":3.672,"a":0.79},{"s":"5","e":3.679,"a":0.7},{"s":"5","e":3.686,"a":0.561},{"s":"5","e":3.697,"a":0.45},{"s":"5","e":3.707,"a":0.366},{"s":"5","e":3.717,"a":0.34},{"s":"5","e":3.727,"a":0.327},{"s":"5","e":3.738,"a":0.27},{"s":"5","e":3.746,"a":0.21},{"s":"5","e":3.749,"a":0.86},
{"s":"7","e":1.7,"a":0},{"s":"7","e":2.4,"a":0.003},{"s":"7","e":2.8,"a":0.009},{"s":"7","e":3.0,"a":0.013},{"s":"7","e":3.2,"a":0.014},{"s":"7","e":3.3,"a":0.021},{"s":"7","e":3.354,"a":0.034},{"s":"7","e":3.396,"a":0.044},{"s":"7","e":3.437,"a":0.073},{"s":"7","e":3.479,"a":0.112},{"s":"7","e":3.5,"a":0.14},{"s":"7","e":3.52,"a":0.171},{"s":"7","e":3.54,"a":0.21},{"s":"7","e":3.555,"a":0.249},{"s":"7","e":3.57,"a":0.29},{"s":"7","e":3.582,"a":0.327},{"s":"7","e":3.589,"a":0.35},{"s":"7","e":3.596,"a":0.337},{"s":"7","e":3.603,"a":0.32},{"s":"7","e":3.61,"a":0.317},{"s":"7","e":3.617,"a":0.34},{"s":"7","e":3.624,"a":0.366},{"s":"7","e":3.631,"a":0.355},{"s":"7","e":3.638,"a":0.372},{"s":"7","e":3.645,"a":0.376},{"s":"7","e":3.652,"a":0.36},{"s":"7","e":3.658,"a":0.346},{"s":"7","e":3.665,"a":0.362},{"s":"7","e":3.672,"a":0.366},{"s":"7","e":3.679,"a":0.33},{"s":"7","e":3.686,"a":0.307},{"s":"7","e":3.693,"a":0.32},{"s":"7","e":3.7,"a":0.327},{"s":"7","e":3.707,"a":0.29},{"s":"7","e":3.714,"a":0.249},{"s":"7","e":3.724,"a":0.235},{"s":"7","e":3.734,"a":0.22},{"s":"7","e":3.742,"a":0.18},{"s":"7","e":3.75,"a":0.137},
{"s":"10","e":1.7,"a":0},{"s":"10","e":2.5,"a":0.002},{"s":"10","e":2.8,"a":0.005},{"s":"10","e":3.0,"a":0.007},{"s":"10","e":3.2,"a":0.008},{"s":"10","e":3.4,"a":0.01},{"s":"10","e":3.437,"a":0.012},{"s":"10","e":3.458,"a":0.02},{"s":"10","e":3.475,"a":0.03},{"s":"10","e":3.492,"a":0.044},{"s":"10","e":3.506,"a":0.058},{"s":"10","e":3.52,"a":0.073},{"s":"10","e":3.534,"a":0.1},{"s":"10","e":3.548,"a":0.132},{"s":"10","e":3.558,"a":0.17},{"s":"10","e":3.568,"a":0.21},{"s":"10","e":3.578,"a":0.26},{"s":"10","e":3.589,"a":0.307},{"s":"10","e":3.6,"a":0.36},{"s":"10","e":3.61,"a":0.405},{"s":"10","e":3.62,"a":0.45},{"s":"10","e":3.631,"a":0.483},{"s":"10","e":3.638,"a":0.56},{"s":"10","e":3.645,"a":0.551},{"s":"10","e":3.652,"a":0.49},{"s":"10","e":3.658,"a":0.522},{"s":"10","e":3.665,"a":0.57},{"s":"10","e":3.672,"a":0.6},{"s":"10","e":3.679,"a":0.58},{"s":"10","e":3.686,"a":0.551},{"s":"10","e":3.693,"a":0.6},{"s":"10","e":3.7,"a":0.659},{"s":"10","e":3.707,"a":0.707},{"s":"10","e":3.714,"a":0.68},{"s":"10","e":3.721,"a":0.659},{"s":"10","e":3.728,"a":0.655},{"s":"10","e":3.734,"a":0.654},{"s":"10","e":3.741,"a":0.63},{"s":"10","e":3.748,"a":0.6}
],
"tang":[{"e":3.4007,"a":-0.04},{"e":3.642,"a":0.995}],
"eg":[{"s":"3","e":2.85,"a":1.044,"txt":"= 3.49eV"},{"s":"5","e":2.85,"a":0.957,"txt":"= 3.41eV"},{"s":"7","e":2.85,"a":0.872,"txt":"= 3.44eV"},{"s":"10","e":2.855,"a":0.787,"txt":"= 3.51eV"}]
},
"concat":[
{
 "vconcat":[
  {"width":564,"height":169,
   "layer":[
    {"data":{"name":"xrd"},"transform":[{"filter":"datum.s == '10'"}],
     "mark":{"type":"line","clip":true,"strokeWidth":2.5},
     "encoding":{
      "x":{"field":"t","type":"quantitative","scale":{"domain":[25,75],"nice":false,"zero":false},"axis":{"orient":"bottom","values":[30,40,50,60,70],"tickSize":-9,"labels":false,"title":null}},
      "y":{"field":"i","type":"quantitative","scale":{"domain":[0.4,8.26],"nice":false,"zero":false},"axis":{"orient":"left","values":[2,4,6,8],"tickSize":-8,"labels":false,"title":null}},
      "color":{"field":"s","type":"nominal","scale":{"domain":["10"],"range":["#ff8f1c"]},"legend":{"orient":"top-left","offset":0,"title":null,"padding":4,"fillColor":"white","strokeColor":"black","symbolType":"stroke","symbolSize":4624,"symbolStrokeWidth":4.5,"clipHeight":40,"labelFontSize":28,"labelFontWeight":"bold","labelOffset":5,"labelLimit":600,"labelExpr":"'10wt. % V-NiOₓ'","zindex":1}}
     }},
    {"data":{"name":"ann"},"transform":[{"filter":"datum.s == '10' && datum.k == 'ITO'"}],
     "mark":{"type":"text","angle":270,"align":"center","baseline":"middle","fontSize":26,"fontWeight":"bold","color":"#878700"},
     "encoding":{
      "x":{"field":"t","type":"quantitative","scale":{"domain":[25,75],"nice":false,"zero":false},"axis":{"orient":"top","values":[30,40,50,60,70],"tickSize":-9,"labelPadding":21,"labelFontSize":22,"title":"a)","titleX":-80,"titleY":17,"titleAngle":0,"titleAlign":"left","titleBaseline":"alphabetic","titleFontSize":21}},
      "y":{"field":"v","type":"quantitative","scale":{"domain":[0.4,8.26],"nice":false,"zero":false},"axis":{"orient":"right","values":[2,4,6,8],"tickSize":-8,"labels":false,"title":null}},
      "text":{"field":"txt"}
     }},
    {"data":{"name":"ann"},"transform":[{"filter":"datum.s == '10' && datum.k == 'hkl'"}],
     "mark":{"type":"text","angle":270,"align":"center","baseline":"middle","fontSize":26,"fontWeight":"normal","color":"black"},
     "encoding":{
      "x":{"field":"t","type":"quantitative","axis":{"orient":"bottom","values":[35,45,55,65],"tickSize":-5,"labels":false,"title":null}},
      "y":{"field":"v","type":"quantitative","axis":{"orient":"left","values":[1,3,5,7],"tickSize":-6,"labels":false,"title":null}},
      "text":{"field":"txt"}}},
    {"data":{"name":"ann"},"transform":[{"filter":"datum.s == '10' && datum.k == 'hkl'"}],
     "mark":{"type":"text","opacity":0},
     "encoding":{
      "x":{"field":"t","type":"quantitative","axis":{"orient":"top","values":[35,45,55,65],"tickSize":-5,"labels":false,"title":null}},
      "y":{"field":"v","type":"quantitative","axis":{"orient":"right","values":[1,3,5,7],"tickSize":-5,"labels":false,"title":null}},
      "text":{"field":"txt"}}}
   ],
   "resolve":{"axis":{"x":"independent","y":"independent"}}
  },
  {"width":564,"height":169,
   "layer":[
    {"data":{"name":"xrd"},"transform":[{"filter":"datum.s == '7'"}],
     "mark":{"type":"line","clip":true,"strokeWidth":2.5},
     "encoding":{
      "x":{"field":"t","type":"quantitative","scale":{"domain":[25,75],"nice":false,"zero":false},"axis":{"orient":"bottom","values":[30,40,50,60,70],"tickSize":-9,"labels":false,"title":null}},
      "y":{"field":"i","type":"quantitative","scale":{"domain":[0.4,8.26],"nice":false,"zero":false},"axis":{"orient":"left","values":[2,4,6,8],"tickSize":-8,"labels":false,"title":null}},
      "color":{"field":"s","type":"nominal","scale":{"domain":["7"],"range":["#1d8f1d"]},"legend":{"orient":"top-left","offset":0,"title":null,"padding":4,"fillColor":"white","strokeColor":"black","symbolType":"stroke","symbolSize":4624,"symbolStrokeWidth":4.5,"clipHeight":40,"labelFontSize":28,"labelFontWeight":"bold","labelOffset":5,"labelLimit":600,"labelExpr":"'7wt. % V-NiOₓ'","zindex":1}}
     }},
    {"data":{"name":"ann"},"transform":[{"filter":"datum.s == '7' && datum.k == 'ITO'"}],
     "mark":{"type":"text","angle":270,"align":"center","baseline":"middle","fontSize":26,"fontWeight":"bold","color":"#878700"},
     "encoding":{
      "x":{"field":"t","type":"quantitative","scale":{"domain":[25,75],"nice":false,"zero":false},"axis":null},
      "y":{"field":"v","type":"quantitative","scale":{"domain":[0.4,8.26],"nice":false,"zero":false},"axis":{"orient":"right","values":[2,4,6,8],"tickSize":-8,"labels":false,"title":null}},
      "text":{"field":"txt"}
     }},
    {"data":{"name":"ann"},"transform":[{"filter":"datum.s == '7' && datum.k == 'hkl'"}],
     "mark":{"type":"text","angle":270,"align":"center","baseline":"middle","fontSize":26,"fontWeight":"normal","color":"black"},
     "encoding":{
      "x":{"field":"t","type":"quantitative","axis":{"orient":"bottom","values":[35,45,55,65],"tickSize":-5,"labels":false,"title":null}},
      "y":{"field":"v","type":"quantitative","axis":{"orient":"left","values":[1,3,5,7],"tickSize":-6,"labels":false,"title":null}},
      "text":{"field":"txt"}}},
    {"data":{"name":"ann"},"transform":[{"filter":"datum.s == '7' && datum.k == 'hkl'"}],
     "mark":{"type":"text","opacity":0},
     "encoding":{
      "x":{"field":"t","type":"quantitative","axis":null},
      "y":{"field":"v","type":"quantitative","axis":{"orient":"right","values":[1,3,5,7],"tickSize":-5,"labels":false,"title":null}},
      "text":{"field":"txt"}}}
   ],
   "resolve":{"axis":{"x":"independent","y":"independent"}}
  },
  {"width":564,"height":169,
   "layer":[
    {"data":{"name":"xrd"},"transform":[{"filter":"datum.s == '5'"}],
     "mark":{"type":"line","clip":true,"strokeWidth":2.5},
     "encoding":{
      "x":{"field":"t","type":"quantitative","scale":{"domain":[25,75],"nice":false,"zero":false},"axis":{"orient":"bottom","values":[30,40,50,60,70],"tickSize":-9,"labels":false,"title":null}},
      "y":{"field":"i","type":"quantitative","scale":{"domain":[0.4,8.26],"nice":false,"zero":false},"axis":{"orient":"left","values":[2,4,6,8],"tickSize":-8,"labels":false,"title":"Relative intensity (a.u)","titleFontSize":31,"titleX":-38,"titleY":39,"titleAngle":270,"titleAlign":"center","titleBaseline":"alphabetic"}},
      "color":{"field":"s","type":"nominal","scale":{"domain":["5"],"range":["#0a0aff"]},"legend":{"orient":"top-left","offset":0,"title":null,"padding":4,"fillColor":"white","strokeColor":"black","symbolType":"stroke","symbolSize":4624,"symbolStrokeWidth":4.5,"clipHeight":40,"labelFontSize":28,"labelFontWeight":"bold","labelOffset":5,"labelLimit":600,"labelExpr":"'5wt. % V-NiOₓ'","zindex":1}}
     }},
    {"data":{"name":"ann"},"transform":[{"filter":"datum.s == '5' && datum.k == 'ITO'"}],
     "mark":{"type":"text","angle":270,"align":"center","baseline":"middle","fontSize":26,"fontWeight":"bold","color":"#878700"},
     "encoding":{
      "x":{"field":"t","type":"quantitative","scale":{"domain":[25,75],"nice":false,"zero":false},"axis":null},
      "y":{"field":"v","type":"quantitative","scale":{"domain":[0.4,8.26],"nice":false,"zero":false},"axis":{"orient":"right","values":[2,4,6,8],"tickSize":-8,"labels":false,"title":null}},
      "text":{"field":"txt"}
     }},
    {"data":{"name":"ann"},"transform":[{"filter":"datum.s == '5' && datum.k == 'hkl'"}],
     "mark":{"type":"text","angle":270,"align":"center","baseline":"middle","fontSize":26,"fontWeight":"normal","color":"black"},
     "encoding":{
      "x":{"field":"t","type":"quantitative","axis":{"orient":"bottom","values":[35,45,55,65],"tickSize":-5,"labels":false,"title":null}},
      "y":{"field":"v","type":"quantitative","axis":{"orient":"left","values":[1,3,5,7],"tickSize":-6,"labels":false,"title":null}},
      "text":{"field":"txt"}}},
    {"data":{"name":"ann"},"transform":[{"filter":"datum.s == '5' && datum.k == 'hkl'"}],
     "mark":{"type":"text","opacity":0},
     "encoding":{
      "x":{"field":"t","type":"quantitative","axis":null},
      "y":{"field":"v","type":"quantitative","axis":{"orient":"right","values":[1,3,5,7],"tickSize":-5,"labels":false,"title":null}},
      "text":{"field":"txt"}}}
   ],
   "resolve":{"axis":{"x":"independent","y":"independent"}}
  },
  {"width":564,"height":169,
   "layer":[
    {"data":{"name":"xrd"},"transform":[{"filter":"datum.s == '3'"}],
     "mark":{"type":"line","clip":true,"strokeWidth":2.5},
     "encoding":{
      "x":{"field":"t","type":"quantitative","scale":{"domain":[25,75],"nice":false,"zero":false},"axis":{"orient":"bottom","values":[30,40,50,60,70],"tickSize":-9,"labels":false,"title":null}},
      "y":{"field":"i","type":"quantitative","scale":{"domain":[0.4,8.26],"nice":false,"zero":false},"axis":{"orient":"left","values":[2,4,6,8],"tickSize":-8,"labels":false,"title":null}},
      "color":{"field":"s","type":"nominal","scale":{"domain":["3"],"range":["#ff0000"]},"legend":{"orient":"top-left","offset":0,"title":null,"padding":4,"fillColor":"white","strokeColor":"black","symbolType":"stroke","symbolSize":4624,"symbolStrokeWidth":4.5,"clipHeight":40,"labelFontSize":28,"labelFontWeight":"bold","labelOffset":5,"labelLimit":600,"labelExpr":"'3wt. % V-NiOₓ'","zindex":1}}
     }},
    {"data":{"name":"ann"},"transform":[{"filter":"datum.s == '3' && datum.k == 'ITO'"}],
     "mark":{"type":"text","angle":270,"align":"center","baseline":"middle","fontSize":26,"fontWeight":"bold","color":"#878700"},
     "encoding":{
      "x":{"field":"t","type":"quantitative","scale":{"domain":[25,75],"nice":false,"zero":false},"axis":null},
      "y":{"field":"v","type":"quantitative","scale":{"domain":[0.4,8.26],"nice":false,"zero":false},"axis":{"orient":"right","values":[2,4,6,8],"tickSize":-8,"labels":false,"title":null}},
      "text":{"field":"txt"}
     }},
    {"data":{"name":"ann"},"transform":[{"filter":"datum.s == '3' && datum.k == 'hkl'"}],
     "mark":{"type":"text","angle":270,"align":"center","baseline":"middle","fontSize":26,"fontWeight":"normal","color":"black"},
     "encoding":{
      "x":{"field":"t","type":"quantitative","axis":{"orient":"bottom","values":[35,45,55,65],"tickSize":-5,"labels":false,"title":null}},
      "y":{"field":"v","type":"quantitative","axis":{"orient":"left","values":[1,3,5,7],"tickSize":-6,"labels":false,"title":null}},
      "text":{"field":"txt"}}},
    {"data":{"name":"ann"},"transform":[{"filter":"datum.s == '3' && datum.k == 'hkl'"}],
     "mark":{"type":"text","opacity":0},
     "encoding":{
      "x":{"field":"t","type":"quantitative","axis":null},
      "y":{"field":"v","type":"quantitative","axis":{"orient":"right","values":[1,3,5,7],"tickSize":-5,"labels":false,"title":null}},
      "text":{"field":"txt"}}}
   ],
   "resolve":{"axis":{"x":"independent","y":"independent"}}
  },
  {"width":564,"height":169,
   "layer":[
    {"data":{"name":"xrd"},"transform":[{"filter":"datum.s == '0'"}],
     "mark":{"type":"line","clip":true,"strokeWidth":2.5},
     "encoding":{
      "x":{"field":"t","type":"quantitative","scale":{"domain":[25,75],"nice":false,"zero":false},"axis":{"orient":"bottom","values":[30,40,50,60,70],"tickSize":-9,"labelPadding":19.5,"labelFontSize":22,"title":"2θ (degree)","titleFontSize":28,"titleX":269,"titleY":75,"titleAlign":"center","titleBaseline":"alphabetic"}},
      "y":{"field":"i","type":"quantitative","scale":{"domain":[0.4,8.26],"nice":false,"zero":false},"axis":{"orient":"left","values":[2,4,6,8],"tickSize":-8,"labels":false,"title":null}},
      "color":{"field":"s","type":"nominal","scale":{"domain":["0"],"range":["#000000"]},"legend":{"orient":"top-left","offset":0,"title":null,"padding":4,"fillColor":"white","strokeColor":"black","symbolType":"stroke","symbolSize":4624,"symbolStrokeWidth":4.5,"clipHeight":40,"labelFontSize":28,"labelFontWeight":"bold","labelOffset":5,"labelLimit":600,"labelExpr":"'Undoped NiOₓ'","zindex":1}}
     }},
    {"data":{"name":"ann"},"transform":[{"filter":"datum.s == '0' && datum.k == 'ITO'"}],
     "mark":{"type":"text","angle":270,"align":"center","baseline":"middle","fontSize":26,"fontWeight":"bold","color":"#878700"},
     "encoding":{
      "x":{"field":"t","type":"quantitative","scale":{"domain":[25,75],"nice":false,"zero":false},"axis":null},
      "y":{"field":"v","type":"quantitative","scale":{"domain":[0.4,8.26],"nice":false,"zero":false},"axis":{"orient":"right","values":[2,4,6,8],"tickSize":-8,"labels":false,"title":null}},
      "text":{"field":"txt"}
     }},
    {"data":{"name":"ann"},"transform":[{"filter":"datum.s == '0' && datum.k == 'hkl'"}],
     "mark":{"type":"text","angle":270,"align":"center","baseline":"middle","fontSize":26,"fontWeight":"normal","color":"black"},
     "encoding":{
      "x":{"field":"t","type":"quantitative","axis":{"orient":"bottom","values":[35,45,55,65],"tickSize":-5,"labels":false,"title":null}},
      "y":{"field":"v","type":"quantitative","axis":{"orient":"left","values":[1,3,5,7],"tickSize":-6,"labels":false,"title":null}},
      "text":{"field":"txt"}}},
    {"data":{"name":"ann"},"transform":[{"filter":"datum.s == '0' && datum.k == 'hkl'"}],
     "mark":{"type":"text","opacity":0},
     "encoding":{
      "x":{"field":"t","type":"quantitative","axis":null},
      "y":{"field":"v","type":"quantitative","axis":{"orient":"right","values":[1,3,5,7],"tickSize":-5,"labels":false,"title":null}},
      "text":{"field":"txt"}}}
   ],
   "resolve":{"axis":{"x":"independent","y":"independent"}}
  }
 ],
 "spacing":0,
 "bounds":"flush",
 "resolve":{"scale":{"color":"independent"},"legend":{"color":"independent"}}
},
{
 "vconcat":[
  {"width":477,"height":7,"view":{"stroke":null},
   "data":{"values":[{"q":0}]},
   "mark":{"type":"text","opacity":0},
   "encoding":{"text":{"value":" "}}
  },
  {"width":477,"height":378,
   "layer":[
    {"data":{"name":"solar"},
     "mark":{"type":"line","strokeWidth":2.2},
     "encoding":{
      "x":{"field":"w","type":"quantitative","scale":{"domain":[300,800],"nice":false,"zero":false},"axis":null},
      "y":{"field":"v","type":"quantitative","scale":{"domain":[0,3],"nice":false,"zero":false},"axis":{"orient":"right","values":[0,0.2,0.4,0.6,0.8,1.0,1.2,1.4,1.6,1.8,2.0,2.2,2.4,2.6,2.8,3.0],"format":".1f","tickSize":-8,"labelPadding":18,"labelFontSize":16,"labelColor":"#808080","tickColor":"#808080","domain":true,"domainColor":"#9a9a9a","domainWidth":2.5,"title":"Solar spectrum (Wm⁻²nm⁻¹)","titleFontSize":23,"titleX":75,"titleY":188,"titleAngle":270,"titleAlign":"center","titleBaseline":"alphabetic"}},
      "color":{"field":"s","type":"nominal","scale":{"domain":["ITO","U","3","5","7","10","Sol"],"range":["#990000","#000000","#ff0000","#0000ff","#1d9a1d","#ff8f1c","#8c8c8c"]},"legend":{"orient":"none","legendX":144,"legendY":193,"title":null,"padding":3,"fillColor":"white","strokeColor":"#555555","symbolType":"stroke","symbolSize":2025,"symbolStrokeWidth":3,"clipHeight":18,"rowPadding":8.5,"labelFontSize":18,"labelFontWeight":"normal","labelOffset":4,"labelLimit":400,"labelExpr":"datum.label == 'ITO' ? 'ITO' : datum.label == 'U' ? 'Undoped NiOₓ' : datum.label == 'Sol' ? 'Solar spectrum' : datum.label + ' wt% V-NiOₓ'","zindex":1}}
     }},
    {"data":{"name":"trans"},
     "mark":{"type":"line","strokeWidth":2.6},
     "encoding":{
      "x":{"field":"w","type":"quantitative","scale":{"domain":[300,800],"nice":false,"zero":false},"axis":{"orient":"bottom","values":[300,400,500,600,700,800],"tickSize":-8,"labelPadding":16,"labelFontSize":17,"title":"Wavelength (nm)","titleFontSize":22,"titleY":57,"titleBaseline":"alphabetic"}},
      "y":{"field":"t","type":"quantitative","scale":{"domain":[0,100],"nice":false,"zero":false},"axis":{"orient":"left","values":[0,20,40,60,80,100],"tickSize":-8,"labelPadding":17,"labelFontSize":16,"labelColor":"#8b0000","tickColor":"#8b0000","domain":true,"domainColor":"#8b0000","domainWidth":2.5,"title":"Transmittance (%)","titleFontSize":22,"titleX":-44,"titleY":197,"titleAngle":270,"titleAlign":"center","titleBaseline":"alphabetic"}},
      "color":{"field":"s","type":"nominal","scale":{"domain":["ITO","U","3","5","7","10","Sol"],"range":["#990000","#000000","#ff0000","#0000ff","#1d9a1d","#ff8f1c","#8c8c8c"]}}
     }},
    {"data":{"values":[{"w1":318,"w2":381,"t":82.8}]},
     "mark":{"type":"rule","color":"black","strokeWidth":2.2},
     "encoding":{
      "x":{"field":"w1","type":"quantitative","scale":{"domain":[300,800],"nice":false,"zero":false},"axis":{"orient":"top","ticks":false,"labels":false,"title":"b)","titleX":-58,"titleY":10,"titleAngle":0,"titleAlign":"left","titleBaseline":"alphabetic","titleFontSize":21}},
      "x2":{"field":"w2"},
      "y":{"field":"t","type":"quantitative","scale":{"domain":[0,100],"nice":false,"zero":false},"axis":{"orient":"left","values":[10,30,50,70,90],"tickSize":-5,"tickColor":"#8b0000","labels":false,"title":null}}
     }},
    {"data":{"values":[{"w":323,"t":82.8}]},
     "mark":{"type":"point","shape":"triangle-left","filled":true,"size":230,"color":"black","opacity":1},
     "encoding":{
      "x":{"field":"w","type":"quantitative","axis":{"orient":"bottom","values":[350,450,550,650,750],"tickSize":-5,"labels":false,"title":null}},
      "y":{"field":"t","type":"quantitative","scale":{"domain":[0,100],"nice":false,"zero":false},"axis":null}
     }},
    {"data":{"values":[{"w1":736,"w2":790,"v":1.49}]},
     "mark":{"type":"rule","color":"black","strokeWidth":2.2},
     "encoding":{
      "x":{"field":"w1","type":"quantitative","axis":null},
      "x2":{"field":"w2"},
      "y":{"field":"v","type":"quantitative","scale":{"domain":[0,3],"nice":false,"zero":false},"axis":{"orient":"right","values":[0.1,0.3,0.5,0.7,0.9,1.1,1.3,1.5,1.7,1.9,2.1,2.3,2.5,2.7,2.9],"tickSize":-4,"tickColor":"#808080","labels":false,"title":null}}
     }},
    {"data":{"values":[{"w":786,"v":1.49}]},
     "mark":{"type":"point","shape":"triangle-right","filled":true,"size":230,"color":"black","opacity":1},
     "encoding":{
      "x":{"field":"w","type":"quantitative","axis":null},
      "y":{"field":"v","type":"quantitative","scale":{"domain":[0,3],"nice":false,"zero":false},"axis":null}
     }}
   ],
   "resolve":{"scale":{"y":"independent"},"axis":{"x":"independent","y":"independent"}}
  },
  {"width":492,"height":394,
   "layer":[
    {"data":{"name":"tauc"},
     "mark":{"type":"line","strokeWidth":2.2,"clip":true},
     "encoding":{
      "x":{"field":"e","type":"quantitative","scale":{"domain":[1.7,3.75],"nice":false,"zero":false},"axis":{"orient":"bottom","values":[1.8,2.0,2.2,2.4,2.6,2.8,3.0,3.2,3.4,3.6],"format":".1f","tickSize":-8,"labelPadding":15,"labelFontSize":16,"title":"hν (eV)","titleFontSize":21,"titleY":55,"titleBaseline":"alphabetic"}},
      "y":{"field":"a","type":"quantitative","scale":{"domain":[-0.053,1.1],"nice":false,"zero":false},"axis":{"orient":"left","values":[0,0.2,0.4,0.6,0.8,1.0],"format":".1f","tickSize":-8,"labelPadding":18,"labelFontSize":15,"title":"(αhν)² (eV/cm²)","titleFontSize":20,"titleX":-41,"titleY":183,"titleAngle":270,"titleAlign":"center","titleBaseline":"alphabetic"}},
      "color":{"field":"s","type":"nominal","scale":{"domain":["3","5","7","10"],"range":["#ff0000","#0000ff","#1d9a1d","#ff8f1c"]},"legend":{"orient":"none","legendX":8,"legendY":8,"title":null,"padding":4,"fillColor":"white","strokeColor":"#b0b0b0","symbolType":"stroke","symbolSize":2304,"symbolStrokeWidth":3,"clipHeight":20,"rowPadding":5.3,"labelFontSize":20,"labelFontWeight":"normal","labelOffset":5,"labelLimit":400,"labelExpr":"datum.label + 'wt% V-NiOx'","zindex":1}}
     }},
    {"data":{"name":"tang"},
     "mark":{"type":"line","color":"black","strokeWidth":1.6},
     "encoding":{
      "x":{"field":"e","type":"quantitative","scale":{"domain":[1.7,3.75],"nice":false,"zero":false},"axis":{"orient":"top","ticks":false,"labels":false,"title":"c)","titleX":-59,"titleY":2,"titleAngle":0,"titleAlign":"left","titleBaseline":"alphabetic","titleFontSize":21}},
      "y":{"field":"a","type":"quantitative","scale":{"domain":[-0.053,1.1],"nice":false,"zero":false},"axis":null}
     }},
    {"data":{"name":"eg"},
     "mark":{"type":"text","align":"left","baseline":"middle","fontSize":20,"fontWeight":"bold"},
     "encoding":{
      "x":{"field":"e","type":"quantitative","axis":{"orient":"bottom","values":[1.9,2.1,2.3,2.5,2.7,2.9,3.1,3.3,3.5,3.7],"tickSize":-4,"labels":false,"title":null}},
      "y":{"field":"a","type":"quantitative","axis":null},
      "text":{"value":"E"},
      "color":{"field":"s","type":"nominal","scale":{"domain":["3","5","7","10"],"range":["#ff0000","#0000ff","#1d9a1d","#ff8f1c"]},"legend":null}
     }},
    {"data":{"name":"eg"},
     "mark":{"type":"text","align":"left","baseline":"middle","fontSize":14,"fontWeight":"bold","dx":14,"dy":7},
     "encoding":{
      "x":{"field":"e","type":"quantitative","axis":null},
      "y":{"field":"a","type":"quantitative","axis":{"orient":"left","values":[0.1,0.3,0.5,0.7,0.9],"tickSize":-4,"labels":false,"title":null}},
      "text":{"value":"g"},
      "color":{"field":"s","type":"nominal","scale":{"domain":["3","5","7","10"],"range":["#ff0000","#0000ff","#1d9a1d","#ff8f1c"]},"legend":null}
     }},
    {"data":{"name":"eg"},
     "mark":{"type":"text","align":"left","baseline":"middle","fontSize":20,"fontWeight":"bold","dx":27},
     "encoding":{
      "x":{"field":"e","type":"quantitative","axis":null},
      "y":{"field":"a","type":"quantitative","axis":null},
      "text":{"field":"txt"},
      "color":{"field":"s","type":"nominal","scale":{"domain":["3","5","7","10"],"range":["#ff0000","#0000ff","#1d9a1d","#ff8f1c"]},"legend":null}
     }}
   ],
   "resolve":{"axis":{"x":"independent","y":"independent"}}
  }
 ],
 "spacing":-10,
 "bounds":"full",
 "resolve":{"scale":{"color":"independent"},"legend":{"color":"independent"}}
}
],
"columns":2,
"align":"none",
"bounds":"full",
"spacing":27,
"resolve":{"scale":{"color":"independent"},"legend":{"color":"independent"}}
}
